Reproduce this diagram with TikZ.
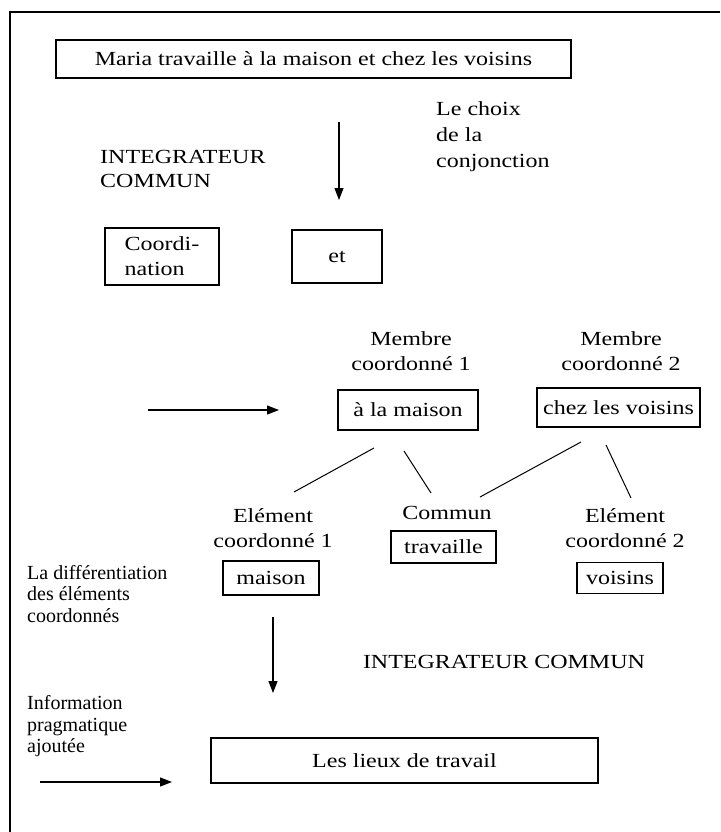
\documentclass[tikz,border=0pt]{standalone}
\usepackage{fontspec}
\setmainfont{Liberation Serif}[FakeStretch=1.2]
\newfontfamily\sidefont{Liberation Serif}
\usetikzlibrary{arrows.meta}

\begin{document}
\begin{tikzpicture}[x=1pt, y=-1pt,
  >={Triangle[length=12pt, width=9pt]},
  box/.style={draw, line width=1.2pt, inner sep=0pt, align=center},
  lbl/.style={inner sep=0pt, align=center, font=\fontsize{20}{25}\selectfont},
  side/.style={inner sep=0pt, align=left, anchor=west, font=\sidefont\fontsize{20}{21.5}\selectfont},
  link/.style={line width=1pt},
  flow/.style={line width=1.2pt, ->}]

\useasboundingbox (0,0) rectangle (720,832);

% Open frame
\draw[line width=1.3pt] (10,832) -- (10,12) -- (720,12);

% Sentence
\node[box, lbl, minimum width=515pt, minimum height=38pt] (phrase) at (313.5,59)
  {Maria travaille à la maison et chez les voisins};

% Choice of the conjunction
\node[lbl, anchor=west, align=left, font=\fontsize{20}{26}\selectfont] (choix) at (436,136.5)
  {Le choix\\de la\\conjonction};
\coordinate (a1s) at (339,122);
\coordinate (a1e) at (339,200);
\draw[flow] (a1s) -- (a1e);

\node[lbl, anchor=west, align=left, font=\fontsize{20}{24}\selectfont] (integA) at (100,168.5)
  {INTEGRATEUR\\COMMUN};

% Coordination and conjunction
\node[box, lbl, align=left, minimum width=114pt, minimum height=57pt] (coord) at (162,256.5)
  {Coordi-\\nation};
\node[box, lbl, minimum width=90pt, minimum height=53pt] (et) at (337,256.5) {et};

% Coordinated members
\node[lbl] (membreA) at (411,351.5) {Membre\\coordonné 1};
\node[lbl] (membreB) at (621,351.5) {Membre\\coordonné 2};

\coordinate (a2s) at (148,410);
\coordinate (a2e) at (279,410);
\draw[flow] (a2s) -- (a2e);

\node[box, lbl, minimum width=140pt, minimum height=40pt] (maisonA) at (408,410) {à la maison};
\node[box, lbl, minimum width=163pt, minimum height=39pt] (voisinsA) at (618.5,407.5) {chez les voisins};

% Branches
\coordinate (b1s) at (374,448); \coordinate (b1e) at (294,492);
\coordinate (b2s) at (404,451); \coordinate (b2e) at (431,493);
\coordinate (b3s) at (581,442); \coordinate (b3e) at (480,497);
\coordinate (b4s) at (606,445); \coordinate (b4e) at (631,498);
\draw[link] (b1s) -- (b1e);
\draw[link] (b2s) -- (b2e);
\draw[link] (b3s) -- (b3e);
\draw[link] (b4s) -- (b4e);

% Coordinated elements and common part
\node[lbl] (elemA) at (273,528.5) {Elément\\coordonné 1};
\node[lbl] (commun) at (447,513) {Commun};
\node[box, lbl, minimum width=105pt, minimum height=32pt] (travaille) at (443.5,547) {travaille};
\node[lbl] (elemB) at (625,528.5) {Elément\\coordonné 2};

\node[side] (diff) at (27,594) {La différentiation\\des éléments\\coordonnés};

\node[box, lbl, minimum width=96pt, minimum height=34pt] (maisonB) at (271,578) {maison};
\node[box, lbl, minimum width=86pt, minimum height=31pt] (voisinsB) at (620,578) {voisins};

\coordinate (a3s) at (273,617);
\coordinate (a3e) at (273,693);
\draw[flow] (a3s) -- (a3e);

\node[lbl] (integB) at (504,662) {INTEGRATEUR COMMUN};

% Pragmatic information
\node[side] (info) at (27,726.5) {Information\\pragmatique\\ajoutée};

\node[box, lbl, minimum width=387pt, minimum height=45pt] (lieux) at (404.5,760.5) {Les lieux de travail};

\coordinate (a4s) at (40,782);
\coordinate (a4e) at (172,782);
\draw[flow] (a4s) -- (a4e);

\end{tikzpicture}
\end{document}
